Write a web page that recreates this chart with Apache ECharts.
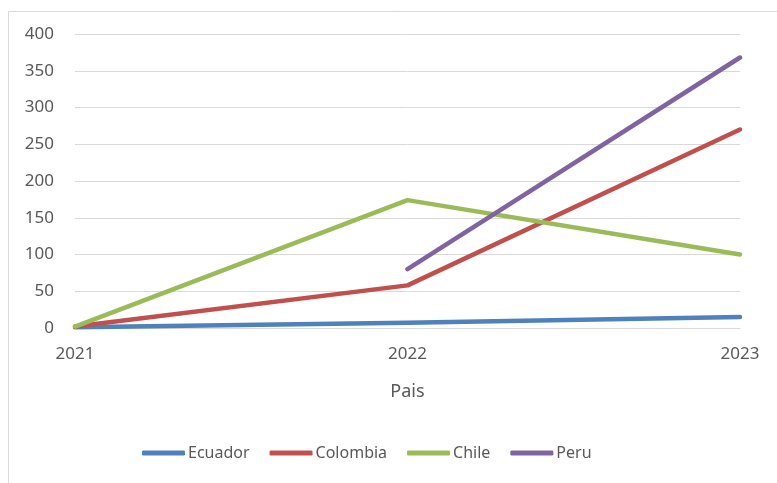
<!DOCTYPE html>
<html>
<head>
<meta charset="utf-8">
<script src="https://cdn.jsdelivr.net/npm/echarts@6/dist/echarts.min.js"></script>
<style>
  html, body { margin: 0; padding: 0; background: #fff; }
  #chart { width: 777px; height: 483px; }
</style>
</head>
<body>
<div id="chart"></div>
<script>
// Years on the category axis
const years = ['2021', '2022', '2023'];

// Values per country
const ecuador = [1, 7, 15];
const colombia = [2, 58, 270];
const chile = [2, 174, 100];
const peru = [null, 80, 368];

const seriesNames = ['Ecuador', 'Colombia', 'Chile', 'Peru'];
const seriesColors = ['#4F81BD', '#C0504D', '#9BBB59', '#8064A2'];
const seriesData = [ecuador, colombia, chile, peru];

const font = '"Noto Sans", "Open Sans", sans-serif';
const textColor = '#595959';

const chart = echarts.init(document.getElementById('chart'), null, { renderer: 'canvas' });

chart.setOption({
  animation: false,
  backgroundColor: '#fff',
  graphic: [{
    type: 'rect',
    left: 6, top: 9,
    shape: { width: 790, height: 490 },
    style: { fill: 'none', stroke: '#d9d9d9', lineWidth: 1 },
    silent: true
  }],
  grid: { left: 75, right: 37, top: 34, bottom: 155, containLabel: false },
  xAxis: {
    type: 'category',
    data: years,
    boundaryGap: false,
    name: 'Pais',
    nameLocation: 'middle',
    nameGap: 55,
    nameTextStyle: { fontFamily: font, fontSize: 18, color: textColor },
    axisLine: { show: true, lineStyle: { color: '#d9d9d9', width: 1 } },
    axisTick: { show: false },
    axisLabel: { fontFamily: font, fontSize: 17, color: textColor, margin: 18 }
  },
  yAxis: {
    type: 'value',
    min: 0, max: 400, interval: 50,
    axisLine: { show: false },
    axisTick: { show: false },
    splitLine: { lineStyle: { color: '#d9d9d9', width: 1 } },
    axisLabel: { fontFamily: font, fontSize: 17, color: textColor, margin: 21 }
  },
  legend: {
    bottom: 17,
    left: 137,
    itemWidth: 43,
    itemHeight: 5,
    itemGap: 20,
    icon: 'roundRect',
    textStyle: { fontFamily: font, fontSize: 16, color: textColor, padding: [0, 0, 0, -2] },
    data: seriesNames
  },
  series: seriesNames.map((name, i) => ({
    name,
    type: 'line',
    data: seriesData[i],
    showSymbol: false,
    symbol: 'none',
    connectNulls: false,
    color: seriesColors[i],
    lineStyle: { width: 4.5, color: seriesColors[i], cap: 'round', join: 'round' }
  }))
});
</script>
</body>
</html>
